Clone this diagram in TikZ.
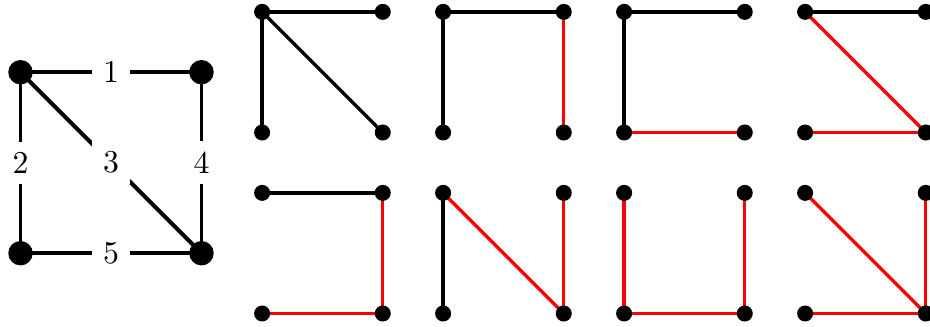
\documentclass[tikz,border=0pt]{standalone}
\pgfdeclarelayer{edges}
\pgfsetlayers{edges,main}
\begin{document}
\begin{tikzpicture}[x=1cm,y=1cm,line cap=round,line join=round,
  bigdot/.style={circle,fill=black,inner sep=0pt,minimum size=0.27cm},
  smalldot/.style={circle,fill=black,inner sep=0pt,minimum size=0.177cm},
  bigedge/.style={line width=1.25pt},
  smalledge/.style={line width=1.05pt},
  elabel/.style={fill=white}]
  \useasboundingbox (-0.2265,0.798) rectangle (10.05,-2.815);
  % the graph
  \node[bigdot] (a) at (0,0) {};
  \node[bigdot] (b) at (2,0) {};
  \node[bigdot] (c) at (0,-2) {};
  \node[bigdot] (d) at (2,-2) {};
  \begin{pgfonlayer}{edges}
   \draw[bigedge] (a.center) -- node[elabel] {1} (b.center);
   \draw[bigedge] (a.center) -- node[elabel] {2} (c.center);
   \draw[bigedge] (a.center) -- node[elabel] {3} (d.center);
   \draw[bigedge] (b.center) -- node[elabel] {4} (d.center);
   \draw[bigedge] (c.center) -- node[elabel] {5} (d.center);
  \end{pgfonlayer}
  % its spanning trees
  \foreach \i/\x/\y in {1/2.67/0.667,2/4.67/0.667,3/6.67/0.667,4/8.67/0.667,
                        5/2.67/-1.333,6/4.67/-1.333,7/6.67/-1.333,8/8.67/-1.333}{
   \node[smalldot] (t\i-a) at (\x,\y) {};
   \node[smalldot] (t\i-b) at ({\x+1.333},\y) {};
   \node[smalldot] (t\i-c) at (\x,{\y-1.333}) {};
   \node[smalldot] (t\i-d) at ({\x+1.333},{\y-1.333}) {};
  }
  \begin{pgfonlayer}{edges}
   \foreach \i/\u/\v/\col in {1/a/b/black,1/a/c/black,1/a/d/black,
                              2/a/b/black,2/a/c/black,2/b/d/red,
                              3/a/b/black,3/a/c/black,3/c/d/red,
                              4/a/b/black,4/a/d/red,4/c/d/red,
                              5/a/b/black,5/b/d/red,5/c/d/red,
                              6/a/c/black,6/a/d/red,6/b/d/red,
                              7/a/c/red,7/b/d/red,7/c/d/red,
                              8/a/d/red,8/b/d/red,8/c/d/red}
    \draw[smalledge,\col] (t\i-\u.center) -- (t\i-\v.center);
  \end{pgfonlayer}
 \end{tikzpicture}
\end{document}
